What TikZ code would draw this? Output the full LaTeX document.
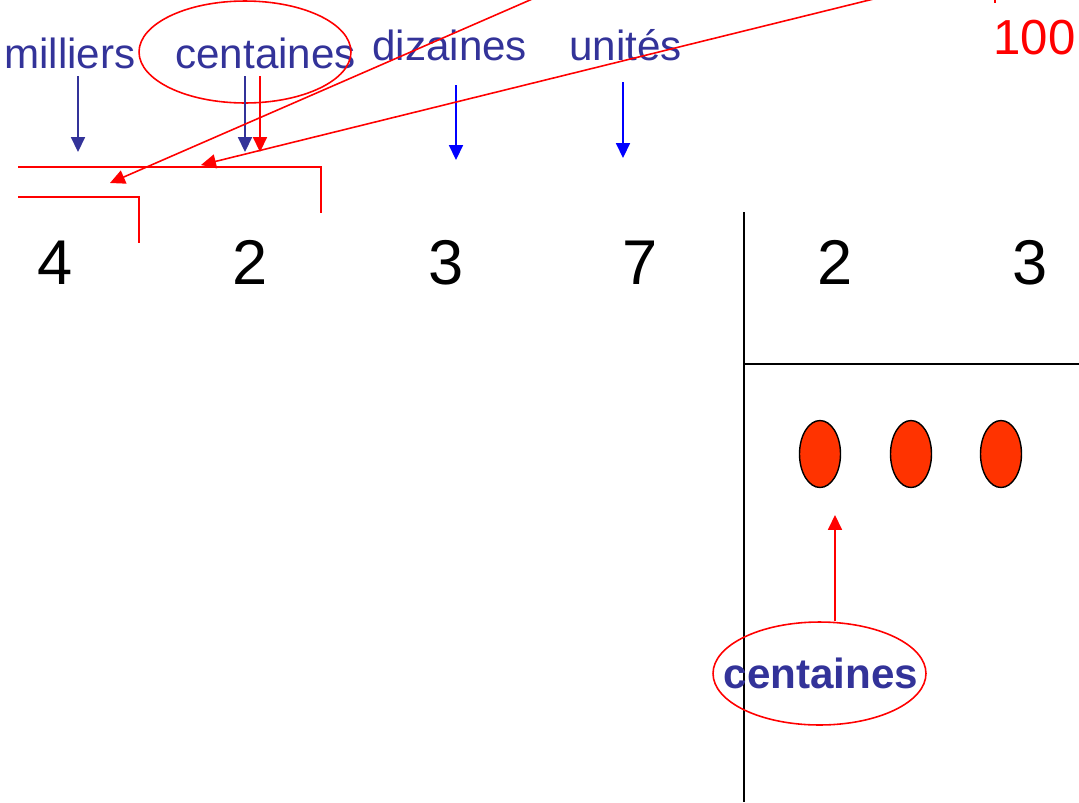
\documentclass[tikz,border=0pt]{standalone}
\usepackage{fontspec}
\setmainfont{Liberation Sans}
\usetikzlibrary{arrows.meta,positioning,shapes.geometric}
\definecolor{cbleu}{HTML}{333399}
\definecolor{cbleuv}{HTML}{0000FF}
\definecolor{crouge}{HTML}{FF0000}
\definecolor{cpion}{HTML}{FF3300}
\tikzset{
  etiq/.style={font=\fontsize{24}{28}\selectfont,text=cbleu,inner sep=0pt,anchor=base west},
  chiffre/.style={font=\fontsize{36}{40}\selectfont,inner sep=0pt,anchor=base},
  ovale/.style={draw=crouge,ellipse,line width=0.9pt,inner sep=0pt},
  pion/.style={draw=black,fill=cpion,ellipse,line width=0.8pt,
               minimum width=0.82cm,minimum height=1.34cm,inner sep=0pt},
  fleche/.style={-{Triangle[length=8.5pt,width=8pt]},line width=0.9pt},
  flecheb/.style={fleche,draw=cbleu},
  flechev/.style={fleche,draw=cbleuv},
  flecher/.style={fleche,draw=crouge},
  trait/.style={draw=crouge,line width=0.9pt},
}
\begin{document}
\begin{tikzpicture}[x=0.02cm,y=-0.02cm]
\useasboundingbox (0,0) rectangle (1079,802);
\clip (0,0) rectangle (1079,802);

% ---------------- en-tetes des colonnes ----------------
\node[etiq] (mil) at (4,68) {milliers};
\node[etiq] (cen) at (175,68) {centaines};
\node[etiq] (diz) at (372,60) {dizaines};
\node[etiq] (uni) at (569,60) {unités};
\node[ovale,minimum width=4.24cm,minimum height=2.04cm] (ocen) at (245,52) {};
\node[font=\fontsize{28}{32}\selectfont,text=crouge,inner sep=0pt,anchor=base west] (cent) at (993,54) {100};

\coordinate (mil1) at (78,76);   \coordinate (mil2) at (78,152);
\coordinate (cen1) at (245,76);  \coordinate (cen2) at (245,152);
\coordinate (cenr1) at (260,76); \coordinate (cenr2) at (260,152);
\coordinate (diz1) at (456,85);  \coordinate (diz2) at (456,160);
\coordinate (uni1) at (623,82);  \coordinate (uni2) at (623,158);

\draw[flecheb] (mil1) -- (mil2);
\draw[flecheb] (cen1) -- (cen2);
\draw[flecher] (cenr1) -- (cenr2);
\draw[flechev] (diz1) -- (diz2);
\draw[flechev] (uni1) -- (uni2);

% ---------------- equerres rouges ----------------
\draw[trait] (18,167) -- (321,167) -- (321,213);
\draw[trait] (18,197) -- (139,197) -- (139,243);

\coordinate (h1) at (553,-10);  \coordinate (b1) at (110,183);
\coordinate (h2) at (910,-10);  \coordinate (b2) at (201,165);
\draw[flecher] (h1) -- (b1);
\draw[flecher] (h2) -- (b2);
\draw[trait] (995,-5) -- (995,3);

% ---------------- nombre ----------------
\node[chiffre] (n1) at (55,284) {4};
\node[chiffre] (n2) at (250,284) {2};
\node[chiffre] (n3) at (446,284) {3};
\node[chiffre] (n4) at (640,284) {7};
\node[chiffre] (n5) at (835,284) {2};
\node[chiffre] (n6) at (1030,284) {3};

% ---------------- potence ----------------
\coordinate (p1) at (744,212); \coordinate (p2) at (744,802);
\coordinate (p3) at (744,364); \coordinate (p4) at (1079,364);
\draw[line width=0.9pt] (p1) -- (p2);
\draw[line width=0.9pt] (p3) -- (p4);

% ---------------- pions ----------------
\node[pion] (e1) at (820,454) {};
\node[pion] (e2) at (911,454) {};
\node[pion] (e3) at (1001,454) {};

\node[ovale,minimum width=4.26cm,minimum height=2.06cm] (ob) at (819.5,673.5) {};
\node[font=\bfseries\fontsize{24}{28}\selectfont,text=cbleu,inner sep=0pt,anchor=base] (cb) at (821,688) {centaines};
\coordinate (pt) at (835,515);
\draw[flecher] (ob.north -| pt) -- (pt);

\end{tikzpicture}
\end{document}
